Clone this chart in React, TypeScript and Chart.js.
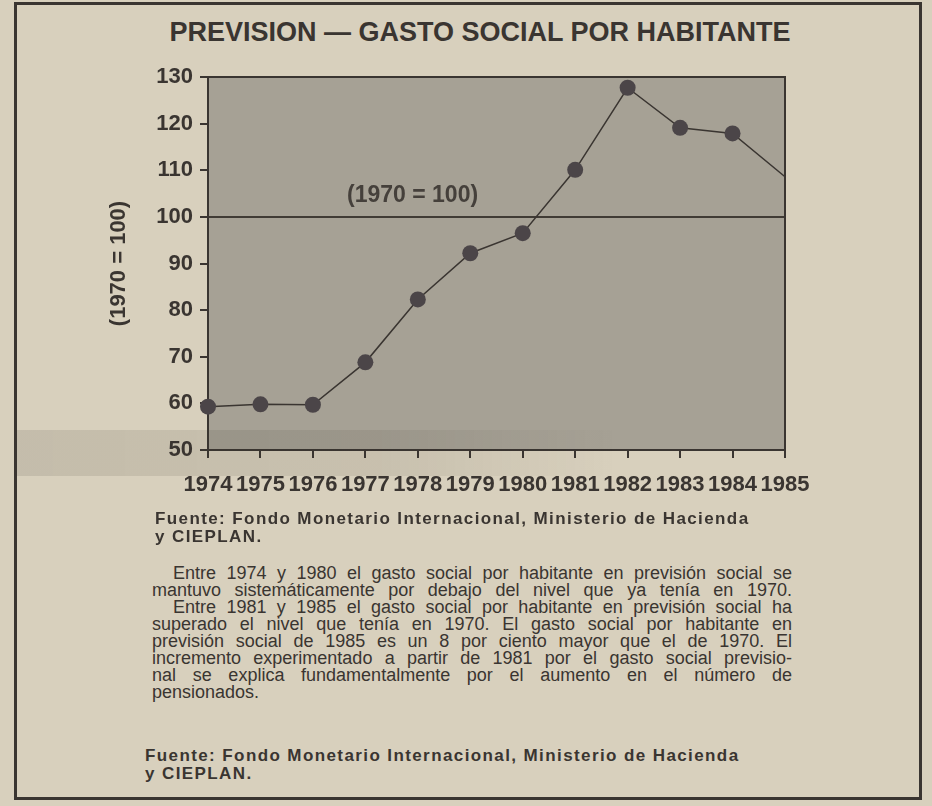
import React, { useEffect, useRef } from "react";
import { Chart, registerables } from "chart.js";

Chart.register(...registerables);

// ---- data ----
const YEARS: string[] = ["1974", "1975", "1976", "1977", "1978", "1979", "1980", "1981", "1982", "1983", "1984", "1985"];
const GASTO: number[] = [59.3, 59.8, 59.7, 68.8, 82.3, 92.2, 96.5, 110.1, 127.7, 119.1, 117.9, 108.6];
const MARKER_SIZES: number[] = [8, 8, 8, 8, 8, 8, 8, 8, 8, 8, 8, 0];
const Y_MIN = 50;
const Y_MAX = 130;
const Y_STEP = 10;
const REF_VALUE = 100;
const REF_LABEL = "(1970 = 100)";
const REF_LABEL_POS = { index: 3.9, value: 104.6 };
const TITLE = "PREVISION — GASTO SOCIAL POR HABITANTE";
const Y_TITLE = "(1970 = 100)";
const SOURCE_LINES: string[] = ["Fuente: Fondo Monetario Internacional, Ministerio de Hacienda", "y CIEPLAN."];
const PARAGRAPH_LINES: { text: string; indent: boolean; last: boolean }[] = [
  { text: "Entre 1974 y 1980 el gasto social por habitante en previsión social se", indent: true, last: false },
  { text: "mantuvo sistemáticamente por debajo del nivel que ya tenía en 1970.", indent: false, last: false },
  { text: "Entre 1981 y 1985 el gasto social por habitante en previsión social ha", indent: true, last: false },
  { text: "superado el nivel que tenía en 1970. El gasto social por habitante en", indent: false, last: false },
  { text: "previsión social de 1985 es un 8 por ciento mayor que el de 1970. El", indent: false, last: false },
  { text: "incremento experimentado a partir de 1981 por el gasto social previsio-", indent: false, last: false },
  { text: "nal se explica fundamentalmente por el aumento en el número de", indent: false, last: false },
  { text: "pensionados.", indent: false, last: true },
];

// ---- styles ----
const PAPER = "#d8d0bd";
const PLOT_BG = "#a6a195";
const INK = "#3a3531";
const MARKER = "#4b4548";
const SANS = '"Liberation Sans", Arial, sans-serif';

const plotDecor = {
  id: "plotDecor",
  beforeDatasetsDraw(chart: any) {
    const { ctx, chartArea: a, scales } = chart;
    ctx.save();
    ctx.fillStyle = PLOT_BG;
    ctx.fillRect(a.left, a.top, a.right - a.left, a.bottom - a.top);
    // reference line
    const y = scales.y.getPixelForValue(REF_VALUE);
    ctx.strokeStyle = "#403b35";
    ctx.lineWidth = 2;
    ctx.beginPath();
    ctx.moveTo(a.left, y);
    ctx.lineTo(a.right, y);
    ctx.stroke();
    // frame
    ctx.strokeStyle = INK;
    ctx.lineWidth = 2;
    ctx.strokeRect(a.left, a.top, a.right - a.left, a.bottom - a.top);
    // label
    const lx = scales.x.getPixelForValue(REF_LABEL_POS.index);
    const ly = scales.y.getPixelForValue(REF_LABEL_POS.value);
    ctx.fillStyle = "#45403b";
    ctx.font = `bold 23px ${SANS}`;
    ctx.textAlign = "center";
    ctx.textBaseline = "middle";
    ctx.fillText(REF_LABEL, lx, ly);
    ctx.restore();
  },
};

function ChartBox() {
  const ref = useRef<HTMLCanvasElement | null>(null);
  useEffect(() => {
    if (!ref.current) return;
    const chart = new Chart(ref.current, {
      type: "line",
      data: {
        labels: YEARS,
        datasets: [
          {
            data: GASTO,
            borderColor: INK,
            borderWidth: 1.5,
            pointRadius: MARKER_SIZES,
            pointHoverRadius: MARKER_SIZES,
            pointBackgroundColor: MARKER,
            pointBorderColor: MARKER,
            pointBorderWidth: 0,
            tension: 0,
            clip: false as any,
          },
        ],
      },
      options: {
        animation: false,
        responsive: false,
        events: [],
        layout: { padding: { left: 106, right: 147, top: 77, bottom: 0 } },
        plugins: { legend: { display: false }, tooltip: { enabled: false }, title: { display: false } },
        scales: {
          x: {
            type: "category",
            offset: false,
            afterFit: (s: any) => {
              s.height = 60;
            },
            grid: { drawOnChartArea: false, drawTicks: true, tickLength: 8, color: INK, lineWidth: 2, offset: false },
            border: { display: true, color: INK, width: 2 },
            ticks: {
              color: INK,
              font: { family: SANS, size: 22, weight: "bold" },
              padding: 14,
              maxRotation: 0,
              autoSkip: false,
            },
          },
          y: {
            min: Y_MIN,
            max: Y_MAX,
            afterFit: (s: any) => {
              s.width = 102;
            },
            grid: { drawOnChartArea: false, drawTicks: true, tickLength: 8, color: INK, lineWidth: 2 },
            border: { display: true, color: INK, width: 2 },
            ticks: {
              stepSize: Y_STEP,
              color: INK,
              font: { family: SANS, size: 22, weight: "bold" },
              padding: 7,
            },
            title: {
              display: true,
              text: Y_TITLE,
              color: INK,
              font: { family: SANS, size: 22, weight: "bold" },
              padding: { top: 0, bottom: 0 },
            },
          },
        },
      },
      plugins: [plotDecor],
    });
    return () => chart.destroy();
  }, []);
  return <canvas ref={ref} width={932} height={510} style={{ position: "absolute", left: 0, top: 0, width: 932, height: 510 }} />;
}

export default function App() {
  useEffect(() => {
    document.body.style.margin = "0";
  }, []);
  const sourceStyle: React.CSSProperties = {
    position: "absolute",
    font: `bold 17px/18px ${SANS}`,
    letterSpacing: "1.4px",
    color: INK,
    whiteSpace: "nowrap",
  };
  return (
    <div style={{ position: "relative", width: 932, height: 806, background: PAPER, overflow: "hidden", color: INK }}>
      <div
        style={{
          position: "absolute",
          left: 14,
          top: 2,
          width: 908,
          height: 798,
          border: `3px solid ${INK}`,
          boxSizing: "border-box",
        }}
      />
      <div
        style={{
          position: "absolute",
          left: 14,
          width: 932,
          top: 16,
          textAlign: "center",
          font: `900 27px/32px ${SANS}`,
          color: INK,
          whiteSpace: "nowrap",
        }}
      >
        {TITLE}
      </div>
      <ChartBox />
      <div
        style={{
          position: "absolute",
          left: 17,
          width: 600,
          top: 430,
          height: 46,
          background: "linear-gradient(to right, rgba(60,55,45,0.12), rgba(60,55,45,0.10) 60%, rgba(60,55,45,0))",
          pointerEvents: "none",
        }}
      />
      <div style={{ ...sourceStyle, left: 155, top: 510 }}>
        {SOURCE_LINES.map((l, i) => (
          <div key={i}>{l}</div>
        ))}
      </div>
      <div style={{ position: "absolute", left: 152, top: 565, width: 640, font: `18px/17px ${SANS}`, color: INK }}>
        {PARAGRAPH_LINES.map((l, i) => (
          <div
            key={i}
            style={{
              whiteSpace: "nowrap",
              textAlign: l.last ? "left" : "justify",
              textAlignLast: l.last ? "left" : "justify",
              paddingLeft: l.indent ? 21 : 0,
            }}
          >
            {l.text}
          </div>
        ))}
      </div>
      <div style={{ ...sourceStyle, left: 145, top: 747 }}>
        {SOURCE_LINES.map((l, i) => (
          <div key={i}>{l}</div>
        ))}
      </div>
    </div>
  );
}
